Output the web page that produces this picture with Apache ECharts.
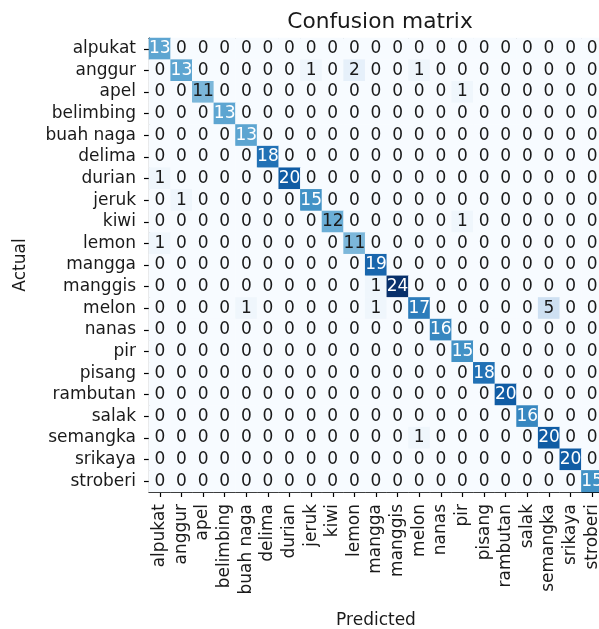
<!DOCTYPE html>
<html>
<head>
<meta charset="utf-8">
<script src="https://cdn.jsdelivr.net/npm/echarts@6/dist/echarts.min.js"></script>
<style>
  html, body { margin: 0; padding: 0; background: #fff; }
  #chart { width: 599px; height: 629px; }
</style>
</head>
<body>
<div id="chart"></div>
<script>
// kelas buah (baris = actual, kolom = predicted)
var labels = ['alpukat', 'anggur', 'apel', 'belimbing', 'buah naga', 'delima', 'durian',
  'jeruk', 'kiwi', 'lemon', 'mangga', 'manggis', 'melon', 'nanas', 'pir', 'pisang',
  'rambutan', 'salak', 'semangka', 'srikaya', 'stroberi'];

var matrix = [
  [13,0,0,0,0,0,0,0,0,0,0,0,0,0,0,0,0,0,0,0,0],
  [0,13,0,0,0,0,0,1,0,2,0,0,1,0,0,0,0,0,0,0,0],
  [0,0,11,0,0,0,0,0,0,0,0,0,0,0,1,0,0,0,0,0,0],
  [0,0,0,13,0,0,0,0,0,0,0,0,0,0,0,0,0,0,0,0,0],
  [0,0,0,0,13,0,0,0,0,0,0,0,0,0,0,0,0,0,0,0,0],
  [0,0,0,0,0,18,0,0,0,0,0,0,0,0,0,0,0,0,0,0,0],
  [1,0,0,0,0,0,20,0,0,0,0,0,0,0,0,0,0,0,0,0,0],
  [0,1,0,0,0,0,0,15,0,0,0,0,0,0,0,0,0,0,0,0,0],
  [0,0,0,0,0,0,0,0,12,0,0,0,0,0,1,0,0,0,0,0,0],
  [1,0,0,0,0,0,0,0,0,11,0,0,0,0,0,0,0,0,0,0,0],
  [0,0,0,0,0,0,0,0,0,0,19,0,0,0,0,0,0,0,0,0,0],
  [0,0,0,0,0,0,0,0,0,0,1,24,0,0,0,0,0,0,0,0,0],
  [0,0,0,0,1,0,0,0,0,0,1,0,17,0,0,0,0,0,5,0,0],
  [0,0,0,0,0,0,0,0,0,0,0,0,0,16,0,0,0,0,0,0,0],
  [0,0,0,0,0,0,0,0,0,0,0,0,0,0,15,0,0,0,0,0,0],
  [0,0,0,0,0,0,0,0,0,0,0,0,0,0,0,18,0,0,0,0,0],
  [0,0,0,0,0,0,0,0,0,0,0,0,0,0,0,0,20,0,0,0,0],
  [0,0,0,0,0,0,0,0,0,0,0,0,0,0,0,0,0,16,0,0,0],
  [0,0,0,0,0,0,0,0,0,0,0,0,1,0,0,0,0,0,20,0,0],
  [0,0,0,0,0,0,0,0,0,0,0,0,0,0,0,0,0,0,0,20,0],
  [0,0,0,0,0,0,0,0,0,0,0,0,0,0,0,0,0,0,0,0,15]
];

var blues = ['#f7fbff','#deebf7','#c6dbef','#9ecae1','#6baed6','#4292c6','#2171b5','#08519c','#08306b'];

var maxVal = 0;
for (var i = 0; i < matrix.length; i++) {
  for (var j = 0; j < matrix[i].length; j++) {
    if (matrix[i][j] > maxVal) maxVal = matrix[i][j];
  }
}
var thresh = maxVal / 2;

var data = [];
for (var r = 0; r < matrix.length; r++) {
  for (var c = 0; c < matrix[r].length; c++) {
    var v = matrix[r][c];
    data.push({
      value: [c, r, v],
      label: { color: v > thresh ? '#ffffff' : '#1a1a1a' }
    });
  }
}

var font = 'DejaVu Sans';
var txt = '#1a1a1a';

var chart = echarts.init(document.getElementById('chart'));
chart.setOption({
  animation: false,
  backgroundColor: '#fff',
  title: {
    text: 'Confusion matrix',
    left: 375,
    textAlign: 'center',
    top: 6,
    textStyle: { fontFamily: font, fontSize: 21.7, fontWeight: 'normal', color: txt }
  },
  // plot area runs past the right edge of the picture, like the original
  grid: { left: 149, top: 38, width: 454, height: 454, containLabel: false, outerBoundsMode: 'none' },
  visualMap: {
    show: false,
    min: 0,
    max: maxVal,
    dimension: 2,
    inRange: { color: blues }
  },
  xAxis: [{
    type: 'category',
    data: labels,
    position: 'bottom',
    name: 'Predicted',
    nameLocation: 'middle',
    nameGap: 120,
    nameTextStyle: { fontFamily: font, fontSize: 17, color: txt },
    axisLine: { show: true, lineStyle: { color: '#000', width: 1.2 } },
    axisTick: { show: true, alignWithLabel: true, length: 5, lineStyle: { color: '#000', width: 1.2 } },
    axisLabel: { interval: 0, rotate: 90, margin: 12, fontFamily: font, fontSize: 17, color: txt },
    splitLine: { show: false },
    splitArea: { show: false }
  }, {
    type: 'category',
    data: labels,
    position: 'top',
    axisLine: { show: true, lineStyle: { color: '#000', width: 1.2 } },
    axisTick: { show: false },
    axisLabel: { show: false }
  }],
  yAxis: {
    type: 'category',
    data: labels,
    inverse: true,
    name: 'Actual',
    nameLocation: 'middle',
    nameRotate: 90,
    nameGap: 120,
    nameTextStyle: { fontFamily: font, fontSize: 17, color: txt },
    axisLine: { show: true, lineStyle: { color: '#000', width: 1.2 } },
    axisTick: { show: true, alignWithLabel: true, length: 5, lineStyle: { color: '#000', width: 1.2 } },
    axisLabel: { interval: 0, margin: 13, fontFamily: font, fontSize: 17, color: txt },
    splitLine: { show: false },
    splitArea: { show: false }
  },
  series: [{
    type: 'heatmap',
    xAxisIndex: 0,
    data: data,
    label: {
      show: true,
      fontFamily: font,
      fontSize: 17,
      formatter: function (p) { return p.value[2]; }
    },
    itemStyle: { borderWidth: 0 },
    emphasis: { disabled: true }
  }]
});
</script>
</body>
</html>
